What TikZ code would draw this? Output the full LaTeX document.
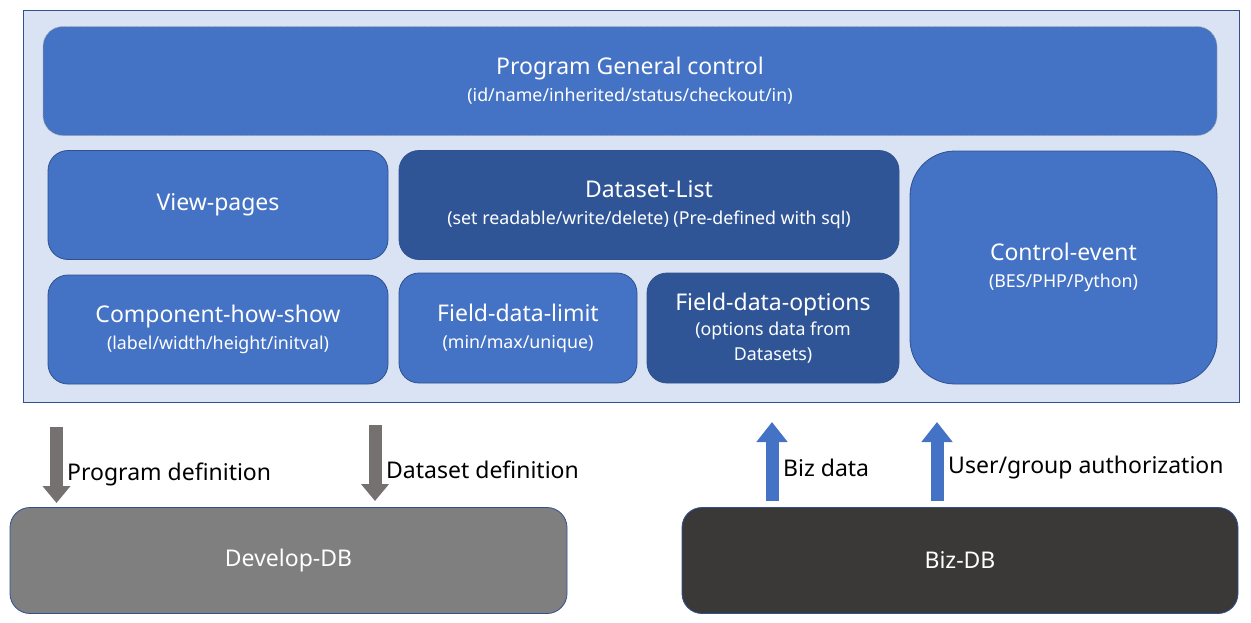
\documentclass[tikz,border=0pt]{standalone}
\usepackage{fontspec}
\setmainfont{Noto Sans}
\usetikzlibrary{arrows.meta}
\definecolor{panelfill}{HTML}{DAE3F3}
\definecolor{paneledge}{HTML}{2F528F}
\definecolor{midblue}{HTML}{4472C4}
\definecolor{darkblue}{HTML}{2F5597}
\definecolor{devgray}{HTML}{7F7F7F}
\definecolor{bizgray}{HTML}{3B3838}
\definecolor{arrgray}{HTML}{767171}
\newcommand\ttlfnt{\fontsize{23}{27}\selectfont}
\newcommand\subfnt{\fontsize{17.8}{27}\selectfont}
\newcommand\lblfnt{\fontsize{23}{27}\selectfont}
\tikzset{
  box/.style={draw=paneledge, line width=0.8pt, fill=midblue, text=white, rounded corners=20pt, align=center, inner sep=0pt, font=\subfnt},
  darkbox/.style={box, fill=darkblue},
  dbbox/.style={draw=paneledge, line width=0.8pt, rounded corners=20pt, text=white, inner sep=0pt, font=\ttlfnt},
  grayarrow/.style={draw=arrgray, line width=13pt, -{Triangle[width=27pt,length=17pt]}},
  bluearrow/.style={draw=midblue, line width=13pt, -{Triangle[width=30pt,length=20pt]}},
  lbl/.style={anchor=west, inner sep=0pt, font=\lblfnt, text=black}
}
\begin{document}
\begin{tikzpicture}[x=1pt,y=-1pt]
\useasboundingbox (0,0) rectangle (1251,622);
% outer panel
\node[draw=paneledge, line width=0.9pt, fill=panelfill, minimum width=1216pt, minimum height=392pt, inner sep=0pt] (panel) at (631,206) {};
% top box
\node[box, draw=gray!70, densely dotted, line width=0.8pt, minimum width=1174pt, minimum height=109pt] (general) at (630,81)
  {{\ttlfnt Program General control}\\(id/name/inherited/status/checkout/in)};
\node[box, minimum width=340pt, minimum height=109pt] (view) at (218,205) {\ttlfnt View-pages};
\node[darkbox, minimum width=500pt, minimum height=109pt] (dataset) at (649,205)
  {{\ttlfnt Dataset-List}\\(set readable/write/delete) (Pre-defined with sql)};
\node[box, rounded corners=45pt, minimum width=307pt, minimum height=233pt] (control) at (1063.5,267.5)
  {{\ttlfnt Control-event}\\(BES/PHP/Python)};
\node[box, minimum width=340pt, minimum height=109pt] (comp) at (218,329.5)
  {{\ttlfnt Component-how-show}\\(label/width/height/initval)};
\node[box, minimum width=238pt, minimum height=110pt] (limit) at (518,328)
  {{\ttlfnt Field-data-limit}\\(min/max/unique)};
\node[darkbox, minimum width=252pt, minimum height=110pt, font=\fontsize{17.8}{25}\selectfont] (options) at (773,328)
  {{\ttlfnt Field-data-options}\\(options data from\\Datasets)};
% databases
\node[dbbox, fill=devgray, minimum width=557pt, minimum height=106pt] (devdb) at (288.5,560.5) {Develop-DB};
\node[dbbox, fill=bizgray, minimum width=556pt, minimum height=106pt] (bizdb) at (960,560.5) {Biz-DB};
% arrows
\coordinate (pd1) at (56.5,427);
\coordinate (pd2) at (56.5,503);
\coordinate (dd1) at (375,425);
\coordinate (dd2) at (375,501);
\coordinate (bd1) at (772,501);
\coordinate (bd2) at (772,422);
\coordinate (ua1) at (937,501);
\coordinate (ua2) at (937,422);
\draw[grayarrow] (pd1) -- (pd2);
\draw[grayarrow] (dd1) -- (dd2);
\draw[bluearrow] (bd1) -- (bd2);
\draw[bluearrow] (ua1) -- (ua2);
\node[lbl] (lpd) at (67,474) {Program definition};
\node[lbl] (ldd) at (386,470) {Dataset definition};
\node[lbl] (lbd) at (783,468) {Biz data};
\node[lbl] (lua) at (948,468) {User/group authorization};
\end{tikzpicture}
\end{document}
